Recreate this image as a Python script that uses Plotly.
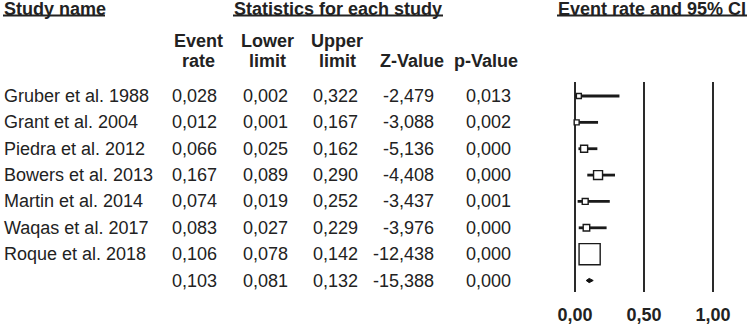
import plotly.graph_objects as go

# ---------------- data ----------------
studies = ["Gruber et al. 1988", "Grant et al. 2004", "Piedra et al. 2012",
           "Bowers et al. 2013", "Martin et al. 2014", "Waqas et al. 2017",
           "Roque et al. 2018"]
event_rate = [0.028, 0.012, 0.066, 0.167, 0.074, 0.083, 0.106]
lower_limit = [0.002, 0.001, 0.025, 0.089, 0.019, 0.027, 0.078]
upper_limit = [0.322, 0.167, 0.162, 0.290, 0.252, 0.229, 0.142]
z_value = [-2.479, -3.088, -5.136, -4.408, -3.437, -3.976, -12.438]
p_value = [0.013, 0.002, 0.000, 0.000, 0.001, 0.000, 0.000]
rel_weight = [3.5, 3.5, 7.0, 11.5, 5.0, 6.0, 63.5]

summary_rate = 0.103
summary_lower = 0.081
summary_upper = 0.132
summary_z = -15.388
summary_p = 0.000

axis_ticks = [0.0, 0.5, 1.0]

# ---------------- layout helpers ----------------
W, H = 751, 325
FONT = "Liberation Sans, Arial, sans-serif"
TXT = "#222222"
FS = 18

def px(x):
    return x / W

def py(y):
    return 1 - y / H

ROW0, ROWSTEP = 96.0, 26.36

def row_y(i):
    return ROW0 + ROWSTEP * i

def fmt(v):
    return f"{v:.3f}".replace(".", ",")

fig = go.Figure()

# CI lines and boxes
n = len(studies)
for i in range(n):
    fig.add_trace(go.Scatter(
        x=[lower_limit[i], upper_limit[i]], y=[i, i], mode="lines",
        line=dict(color="#1a1a1a", width=2.8), showlegend=False, hoverinfo="skip"))
fig.add_trace(go.Scatter(
    x=event_rate, y=list(range(n)), mode="markers",
    marker=dict(symbol="square", size=[2.65 * w ** 0.5 for w in rel_weight],
                color="white", opacity=1, line=dict(color="#1a1a1a", width=1.4)),
    showlegend=False, hoverinfo="skip"))

# summary diamond
h = 0.08
fig.add_trace(go.Scatter(
    x=[summary_lower, summary_rate, summary_upper, summary_rate, summary_lower],
    y=[n, n - h, n, n + h, n], mode="lines", fill="toself",
    fillcolor="#111111", line=dict(color="#111111", width=1),
    showlegend=False, hoverinfo="skip"))

# axis mapping: x=0 at pixel 575, x=1 at pixel 713
x0_px, scale = 575.0, 138.0
dom_l, dom_r = 555.0, 745.0
top_px, bot_px = 82.0, 292.0

fig.update_layout(
    width=W, height=H, margin=dict(l=0, r=0, t=0, b=0),
    paper_bgcolor="white", plot_bgcolor="white",
    separators=",.",
    xaxis=dict(domain=[px(dom_l), px(dom_r)],
               range=[(dom_l - x0_px) / scale, (dom_r - x0_px) / scale],
               tickvals=axis_ticks, tickformat=".2f",
               showgrid=True, gridcolor="#2a2a2a", gridwidth=1.5,
               zeroline=False, showline=False, ticks="",
               ticklabelstandoff=10,
               tickfont=dict(family=FONT, size=FS, color=TXT, weight="bold"),
               fixedrange=True),
    yaxis=dict(domain=[py(bot_px), py(top_px)],
               range=[(bot_px - ROW0) / ROWSTEP, (top_px - ROW0) / ROWSTEP],
               showgrid=False, zeroline=False, showticklabels=False,
               showline=False, ticks="", fixedrange=True),
)

anns = []

def text(x, y, s, anchor="center", bold=False, yanchor="middle"):
    anns.append(dict(x=px(x), y=py(y), xref="paper", yref="paper",
                     text=(f"<b>{s}</b>" if bold else s), showarrow=False,
                     xanchor=anchor, yanchor=yanchor, borderpad=0,
                     font=dict(family=FONT, size=FS, color=TXT)))

# headers
HT = -2.5
text(3, HT, "Study name", "left", True, "top")
text(338, HT, "Statistics for each study", "center", True, "top")
text(652, HT, "Event rate and 95% CI", "center", True, "top")

underlines = [(3, 105), (233, 443), (557, 747)]
shapes = []
for a, b in underlines:
    shapes.append(dict(type="line", xref="paper", yref="paper",
                       x0=px(a), x1=px(b), y0=py(15.5), y1=py(15.5),
                       line=dict(color=TXT, width=2)))

# column subheaders
L1, L2 = 41.5, 61.5
col_centers = [198, 267, 337, 412, 486]
text(col_centers[0], L1, "Event", bold=True)
text(col_centers[0], L2, "rate", bold=True)
text(col_centers[1], L1, "Lower", bold=True)
text(col_centers[1], L2, "limit", bold=True)
text(col_centers[2], L1, "Upper", bold=True)
text(col_centers[2], L2, "limit", bold=True)
text(col_centers[3], L2, "Z-Value", bold=True)
text(col_centers[4], L2, "p-Value", bold=True)

# rows
col_right = [218, 289, 359, 435, 512]
for i in range(n):
    y = row_y(i)
    text(3, y, studies[i], "left")
    vals = [fmt(event_rate[i]), fmt(lower_limit[i]), fmt(upper_limit[i]),
            fmt(z_value[i]), fmt(p_value[i])]
    for xr, v in zip(col_right, vals):
        text(xr, y, v, "right")
y = row_y(n)
for xr, v in zip(col_right, [fmt(summary_rate), fmt(summary_lower), fmt(summary_upper),
                             fmt(summary_z), fmt(summary_p)]):
    text(xr, y, v, "right")

fig.update_layout(annotations=anns, shapes=shapes)
fig.write_html("out.html")
